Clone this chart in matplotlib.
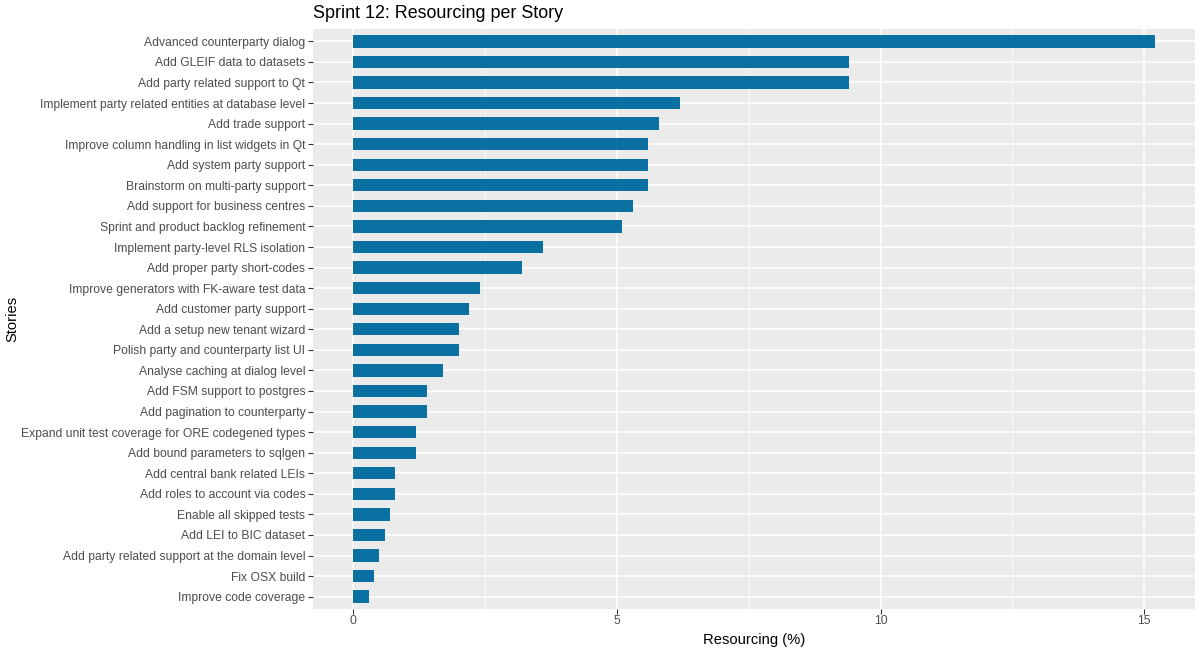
import matplotlib
matplotlib.use("Agg")
import matplotlib.pyplot as plt
from matplotlib.ticker import MultipleLocator

plt.rcParams['font.family'] = ['Liberation Sans', 'DejaVu Sans']

stories = [
    "Advanced counterparty dialog",
    "Add GLEIF data to datasets",
    "Add party related support to Qt",
    "Implement party related entities at database level",
    "Add trade support",
    "Improve column handling in list widgets in Qt",
    "Add system party support",
    "Brainstorm on multi-party support",
    "Add support for business centres",
    "Sprint and product backlog refinement",
    "Implement party-level RLS isolation",
    "Add proper party short-codes",
    "Improve generators with FK-aware test data",
    "Add customer party support",
    "Add a setup new tenant wizard",
    "Polish party and counterparty list UI",
    "Analyse caching at dialog level",
    "Add FSM support to postgres",
    "Add pagination to counterparty",
    "Expand unit test coverage for ORE codegened types",
    "Add bound parameters to sqlgen",
    "Add central bank related LEIs",
    "Add roles to account via codes",
    "Enable all skipped tests",
    "Add LEI to BIC dataset",
    "Add party related support at the domain level",
    "Fix OSX build",
    "Improve code coverage",
]
resourcing = [15.2, 9.4, 9.4, 6.2, 5.8, 5.6, 5.6, 5.6, 5.3, 5.1, 3.6, 3.2,
              2.4, 2.2, 2.0, 2.0, 1.7, 1.4, 1.4, 1.2, 1.2, 0.8, 0.8, 0.7,
              0.6, 0.5, 0.4, 0.3]
xticks = [0, 5, 10, 15]

W, H = 1200, 650
fig = plt.figure(figsize=(12, 6.5), dpi=100)
left, right, bottom, top = 313, 1195, 609, 29
ax = fig.add_axes([left / W, 1 - bottom / H, (right - left) / W, (bottom - top) / H])
ax.set_facecolor('#EBEBEB')

n = len(stories)
ypos = list(range(n - 1, -1, -1))
ax.barh(ypos, resourcing, height=0.6, color='#0A70A2', zorder=3)

xmax = max(resourcing)
ax.set_xlim(-0.05 * xmax, xmax * 1.05)
ax.set_ylim(-0.6, n - 1 + 0.6)
ax.set_yticks(ypos)
ax.set_yticklabels(stories)
ax.set_xticks(xticks)
ax.xaxis.set_minor_locator(MultipleLocator(2.5))

ax.grid(True, which='major', color='white', linewidth=1.1, zorder=1)
ax.grid(True, which='minor', axis='x', color='white', linewidth=0.55, zorder=1)
for s in ax.spines.values():
    s.set_visible(False)
ax.tick_params(axis='both', which='major', length=3.5, width=0.8, color='#333333',
               labelcolor='#4D4D4D', labelsize=8.75, pad=2)
ax.tick_params(axis='x', which='minor', length=0)
ax.tick_params(axis='x', which='major', pad=1)

ax.set_xlabel('Resourcing (%)', fontsize=10.6, color='black', labelpad=4)
ax.set_ylabel('Stories', fontsize=10.6, color='black')
ax.yaxis.set_label_coords((19 - left) / (right - left), 0.5)
fig.text(left / W, 1 - 13 / H, 'Sprint 12: Resourcing per Story', fontsize=12.9,
         ha='left', va='center', color='black')

fig.savefig('out.png', dpi=100)
